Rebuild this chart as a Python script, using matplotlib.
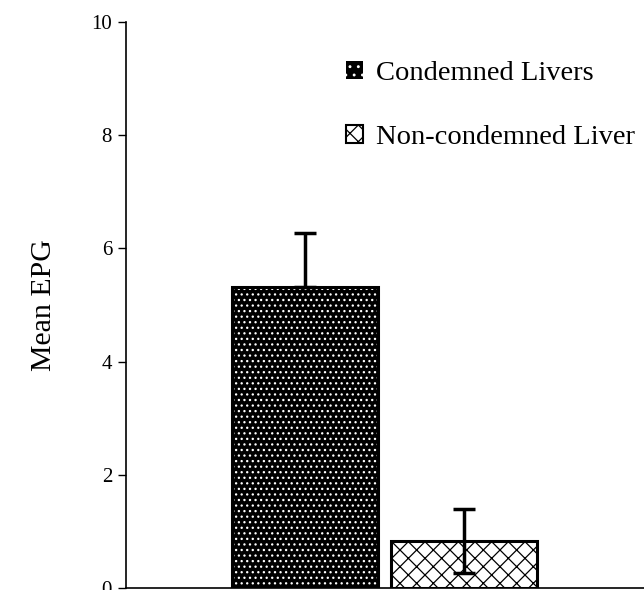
import matplotlib.pyplot as plt
from matplotlib.patches import Patch

# Datos
grupos = ['Condemned Livers', 'Non-condemned Liver']
medias = [5.32, 0.83]
errores = [0.95, 0.57]

plt.rcParams['font.family'] = ['Liberation Serif', 'DejaVu Serif']
plt.rcParams['hatch.linewidth'] = 0.9

fig = plt.figure(figsize=(6.44, 5.90), dpi=100)
ax = fig.add_axes([126 / 644, 2 / 590, 518 / 644, 566 / 590])

posiciones = [0, 1]
ancho = 0.92

# Barra negra con puntos blancos
ax.bar(posiciones[0], medias[0], width=ancho, color='black', edgecolor='white',
       hatch='...', linewidth=0, zorder=2)
# Barra blanca con patrón negro
ax.bar(posiciones[1], medias[1], width=ancho, color='white', edgecolor='black',
       hatch='xx', linewidth=0, zorder=2)
# Contornos
ax.bar(posiciones, medias, width=ancho, fill=False, edgecolor='black',
       linewidth=2.2, zorder=3)

# Barras de error
ax.errorbar(posiciones[0], medias[0], yerr=[[0], [errores[0]]], fmt='none',
            ecolor='black', elinewidth=2.5, capsize=8, capthick=2.5, zorder=4)
ax.errorbar(posiciones[1], medias[1], yerr=errores[1], fmt='none',
            ecolor='black', elinewidth=2.5, capsize=8, capthick=2.5, zorder=4)

ax.set_ylim(0, 10)
ax.set_xlim(-1.126, 2.13)
ax.set_yticks([0, 2, 4, 6, 8, 10])
ax.set_xticks([])
ax.tick_params(axis='y', direction='out', length=6, width=1, labelsize=15, pad=4)
ax.spines['top'].set_visible(False)
ax.spines['right'].set_visible(False)
ax.spines['left'].set_linewidth(1.2)
ax.spines['bottom'].set_linewidth(1.2)

fig.text(44 / 644, 1 - 305 / 590, 'Mean EPG', rotation=90, fontsize=21.5,
         ha='center', va='center')

manejadores = [
    Patch(facecolor='black', edgecolor='white', hatch='..', linewidth=0),
    Patch(facecolor='white', edgecolor='black', hatch='xx', linewidth=1.5),
]
ax.legend(manejadores, grupos, loc='upper left',
          bbox_to_anchor=(346 / 644, 1 - 61 / 590), bbox_transform=fig.transFigure,
          frameon=False, fontsize=20.5, handlelength=0.6, handleheight=0.6,
          handletextpad=0.45, labelspacing=1.35, borderpad=0, borderaxespad=0)

plt.savefig('out.png', dpi=100)
